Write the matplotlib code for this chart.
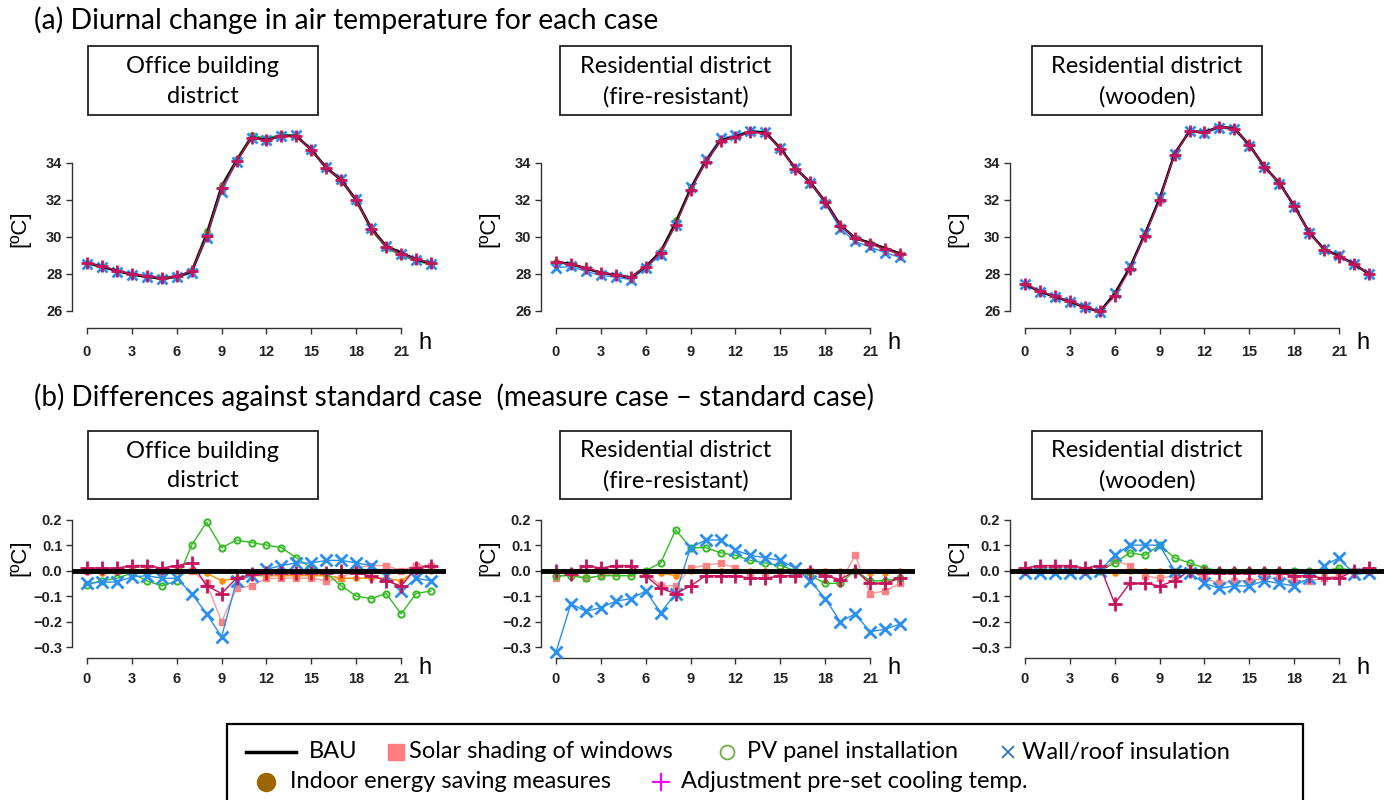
import matplotlib.pyplot as plt
import matplotlib.transforms as mtransforms
from matplotlib.lines import Line2D
from matplotlib.patches import Rectangle

# hours of the day
hours = list(range(24))

# (a) BAU air temperature [oC]
bau_office = [28.60, 28.39, 28.17, 27.97, 27.85, 27.76, 27.85, 28.12, 30.10, 32.70, 34.10, 35.37,
              35.22, 35.44, 35.44, 34.68, 33.73, 33.06, 31.99, 30.46, 29.50, 29.14, 28.78, 28.57]
bau_fire = [28.65, 28.53, 28.30, 28.06, 27.94, 27.80, 28.39, 29.20, 30.73, 32.58, 34.05, 35.19,
            35.40, 35.67, 35.62, 34.77, 33.69, 32.94, 31.90, 30.64, 29.92, 29.68, 29.38, 29.10]
bau_wood = [27.45, 27.04, 26.77, 26.50, 26.20, 25.96, 26.92, 28.30, 30.10, 32.04, 34.47, 35.70,
            35.64, 35.94, 35.85, 34.95, 33.78, 32.92, 31.66, 30.24, 29.32, 28.96, 28.53, 27.99]

# (b) differences (measure case - standard case) [oC]
shade_office = [0.00, 0.00, 0.00, 0.00, 0.00, 0.00, 0.00, 0.00, -0.05, -0.20, -0.07, -0.06,
                -0.03, -0.03, -0.03, -0.03, -0.04, -0.03, 0.01, 0.02, 0.02, 0.00, 0.02, 0.02]
pv_office = [-0.055, -0.04, -0.03, -0.01, -0.04, -0.06, -0.04, 0.10, 0.19, 0.09, 0.12, 0.11,
             0.10, 0.09, 0.05, 0.01, -0.01, -0.06, -0.10, -0.11, -0.09, -0.17, -0.09, -0.08]
wall_office = [-0.05, -0.045, -0.045, -0.025, -0.02, -0.03, -0.03, -0.09, -0.17, -0.26, -0.04, -0.02,
               0.005, 0.02, 0.03, 0.03, 0.04, 0.04, 0.03, 0.02, -0.02, -0.08, -0.03, -0.04]
indoor_office = [0.00, -0.01, 0.00, 0.00, 0.00, 0.00, 0.00, 0.00, -0.01, -0.04, -0.03, -0.02,
                 -0.02, -0.02, -0.02, -0.02, -0.02, -0.03, -0.03, -0.03, -0.03, -0.04, 0.00, 0.00]
preset_office = [0.01, 0.01, 0.01, 0.02, 0.02, 0.01, 0.02, 0.03, -0.06, -0.09, -0.03, -0.015,
                 -0.01, -0.01, -0.01, -0.01, -0.01, 0.00, -0.01, -0.02, -0.04, -0.06, 0.01, 0.02]

shade_fire = [-0.03, -0.01, -0.03, -0.02, -0.01, -0.01, -0.01, -0.06, -0.06, 0.01, 0.02, 0.03,
              0.01, -0.01, -0.01, -0.01, -0.01, 0.00, -0.01, -0.045, 0.06, -0.09, -0.08, -0.05]
pv_fire = [-0.02, -0.02, -0.03, -0.02, -0.02, -0.02, 0.00, 0.03, 0.16, 0.09, 0.09, 0.07,
           0.06, 0.04, 0.03, 0.02, 0.00, -0.02, -0.05, -0.05, 0.00, -0.04, -0.04, -0.03]
wall_fire = [-0.32, -0.13, -0.16, -0.145, -0.12, -0.11, -0.08, -0.165, -0.09, 0.09, 0.12, 0.12,
             0.08, 0.06, 0.05, 0.04, 0.01, -0.04, -0.11, -0.20, -0.17, -0.24, -0.23, -0.21]
indoor_fire = [0.00, 0.00, 0.00, 0.00, 0.00, 0.00, -0.01, -0.01, -0.02, 0.00, 0.00, 0.00,
               0.00, 0.00, 0.00, 0.00, 0.00, 0.00, 0.00, 0.00, 0.00, -0.01, -0.01, 0.00]
preset_fire = [0.00, -0.015, 0.02, 0.01, 0.02, 0.02, -0.02, -0.07, -0.09, -0.06, -0.02, -0.02,
               -0.02, -0.03, -0.03, -0.02, -0.02, -0.005, -0.02, -0.035, 0.00, -0.05, -0.05, -0.03]

shade_wood = [0.00, 0.00, 0.00, 0.00, 0.00, 0.00, 0.04, 0.02, -0.02, -0.03, -0.02, 0.00,
              -0.03, -0.05, -0.04, -0.04, -0.03, -0.03, -0.04, -0.04, -0.03, -0.02, 0.00, 0.00]
pv_wood = [0.00, 0.00, 0.00, 0.00, 0.00, 0.00, 0.03, 0.07, 0.06, 0.10, 0.05, 0.03,
           0.01, 0.00, 0.00, 0.00, 0.00, 0.00, 0.00, 0.00, 0.00, 0.01, 0.00, 0.00]
wall_wood = [-0.01, -0.01, -0.01, -0.01, -0.01, 0.00, 0.06, 0.10, 0.10, 0.10, 0.00, -0.01,
             -0.05, -0.07, -0.06, -0.06, -0.04, -0.05, -0.06, -0.03, 0.02, 0.05, -0.015, -0.01]
indoor_wood = [0.00, 0.00, 0.00, 0.00, 0.00, 0.00, -0.01, 0.00, 0.00, 0.00, 0.00, 0.00,
               0.00, 0.00, 0.00, 0.00, 0.00, 0.00, 0.00, 0.00, 0.00, 0.00, 0.00, 0.00]
preset_wood = [0.01, 0.02, 0.02, 0.02, 0.01, 0.02, -0.13, -0.05, -0.05, -0.06, -0.04, 0.00,
               -0.01, -0.01, -0.01, -0.01, -0.01, -0.01, -0.02, -0.02, -0.03, -0.03, 0.00, 0.01]

districts = ["Office building\ndistrict", "Residential district\n(fire-resistant)",
             "Residential district\n(wooden)"]
bau_all = [bau_office, bau_fire, bau_wood]
diff_all = [
    {"shade": shade_office, "pv": pv_office, "indoor": indoor_office, "wall": wall_office, "preset": preset_office},
    {"shade": shade_fire, "pv": pv_fire, "indoor": indoor_fire, "wall": wall_fire, "preset": preset_fire},
    {"shade": shade_wood, "pv": pv_wood, "indoor": indoor_wood, "wall": wall_wood, "preset": preset_wood},
]

x_ticks = [0, 3, 6, 9, 12, 15, 18, 21]
temp_ticks = [26, 28, 30, 32, 34]
diff_ticks = [-0.3, -0.2, -0.1, 0.0, 0.1, 0.2]

styles = {
    "shade": dict(color="#F59A9A", marker="s", mfc="#F78383", mec="#F78383", ms=4.5, lw=1.0),
    "pv": dict(color="#33BB22", marker="o", mfc="none", mec="#33BB22", mew=1.4, ms=4.5, lw=1.0),
    "indoor": dict(color="#FF8C00", marker="o", mfc="#FF8C00", mec="#FF8C00", ms=3.8, lw=1.0),
    "wall": dict(color="#2A8FF0", marker="x", mew=2.0, ms=9, lw=1.0),
    "preset": dict(color="#C4145E", marker="+", mew=2.0, ms=10, lw=1.0),
}

W, H = 1397, 800
fig = plt.figure(figsize=(W / 100, H / 100), dpi=100)
plt.rcParams["font.family"] = ["Liberation Sans", "DejaVu Sans"]
TITLE_FONT = ["Lato", "DejaVu Sans"]


def fx(px):
    return px / W


def fy(py):
    return 1 - py / H


def style_axes(ax, ybounds, yticks, ylabels):
    for s in ["top", "right"]:
        ax.spines[s].set_visible(False)
    ax.spines["left"].set_bounds(*ybounds)
    ax.spines["bottom"].set_bounds(0, 21)
    for s in ["left", "bottom"]:
        ax.spines[s].set_color("#333333")
        ax.spines[s].set_linewidth(1.0)
    ax.set_xticks(x_ticks)
    ax.set_yticks(yticks)
    ax.set_yticklabels(ylabels)
    ax.tick_params(axis="both", direction="out", length=4, width=1, color="#333333",
                   labelsize=10.5, labelcolor="#222222")
    ax.tick_params(axis="y", pad=3)
    for lab in ax.get_xticklabels() + ax.get_yticklabels():
        lab.set_fontweight("bold")


lefts = [72, 541, 1010]
axw = 374

for i in range(3):
    # ---- (a) temperature
    top_px, bot_px = 120, 328
    ax = fig.add_axes([fx(lefts[i]), fy(bot_px), axw / W, (bot_px - top_px) / H])
    ax.set_xlim(-1, 24)
    ax.set_ylim(25.08, 36.3)
    for key in ["shade", "pv", "indoor", "wall", "preset"]:
        vals = [b + d for b, d in zip(bau_all[i], diff_all[i][key])]
        st = dict(styles[key])
        st["ms"] = st["ms"] * 0.8
        ax.plot(hours, vals, zorder=3 if key != "preset" else 5, **st)
    ax.plot(hours, bau_all[i], color="black", lw=1.8, zorder=4)
    style_axes(ax, (26, 34), temp_ticks, [str(t) for t in temp_ticks])
    ax.tick_params(axis="x", pad=8)
    ax.text(-0.139, 0.479, "[ºC]", transform=ax.transAxes, rotation=90,
            ha="center", va="center", fontsize=16)
    tr = mtransforms.blended_transform_factory(ax.transData, ax.transAxes)
    ax.text(22.6, -0.072, "h", transform=tr, ha="center", va="center", fontsize=17)

    # ---- (b) differences
    top_px, bot_px = 512, 658
    ax = fig.add_axes([fx(lefts[i]), fy(bot_px), axw / W, (bot_px - top_px) / H])
    ax.set_xlim(-1, 24)
    ax.set_ylim(-0.343, 0.23)
    for key in ["shade", "indoor", "pv", "wall", "preset"]:
        ax.plot(hours, diff_all[i][key], zorder=4 if key == "preset" else 3, **styles[key])
    ax.axhline(0, color="black", lw=3.5, zorder=6)
    style_axes(ax, (-0.3, 0.2), diff_ticks,
               [f"{t:.1f}".replace("-", "\u2212") for t in diff_ticks])
    ax.tick_params(axis="x", pad=6)
    ax.text(-0.139, 0.688, "[ºC]", transform=ax.transAxes, rotation=90,
            ha="center", va="center", fontsize=16)
    tr = mtransforms.blended_transform_factory(ax.transData, ax.transAxes)
    ax.text(22.6, -0.07, "h", transform=tr, ha="center", va="center", fontsize=17)

# section titles
fig.text(fx(34), fy(20), "(a) Diurnal change in air temperature for each case",
         fontsize=20.3, family=TITLE_FONT, va="center", ha="left")
fig.text(fx(34), fy(397), "(b) Differences against standard case  (measure case \u2013 standard case)",
         fontsize=20, family=TITLE_FONT, va="center", ha="left")

# district boxes
box_x = [(88, 318), (560, 791), (1032, 1262)]
for (y0, y1) in [(46, 115), (431, 499)]:
    for i, (x0, x1) in enumerate(box_x):
        fig.patches.append(Rectangle((fx(x0), fy(y1)), (x1 - x0) / W, (y1 - y0) / H,
                                     transform=fig.transFigure, fill=False,
                                     edgecolor="#222222", lw=1.3))
        fig.text(fx((x0 + x1) / 2), fy((y0 + y1) / 2 + 1), districts[i], fontsize=17,
                 family=TITLE_FONT, ha="center", va="center", linespacing=1.5)

# legend box
fig.patches.append(Rectangle((fx(227), fy(810)), (1303 - 227) / W, (810 - 724) / H,
                             transform=fig.transFigure, fill=False, edgecolor="black", lw=1.6))
r1, r2 = 752, 782
fig.add_artist(Line2D([fx(246), fx(296)], [fy(r1), fy(r1)], color="black", lw=2.5,
                      transform=fig.transFigure))
legend_marks = [
    (396, r1, dict(marker="s", ms=11, mfc="#FF7C80", mec="#FF7C80")),
    (727, r1, dict(marker="o", ms=10, mfc="none", mec="#70AD47", mew=1.3)),
    (1008, r1, dict(marker="x", ms=8, mec="#2E75B6", mew=1.3)),
    (266, r2, dict(marker="o", ms=13, mfc="#9C6500", mec="#9C6500")),
    (661, r2, dict(marker="+", ms=13, mec="#FF00FF", mew=1.5)),
]
for px, py, st in legend_marks:
    fig.add_artist(Line2D([fx(px)], [fy(py)], ls="none", transform=fig.transFigure, **st))
legend_texts = [
    (309, r1, "BAU"), (409, r1, "Solar shading of windows"), (747, r1, "PV panel installation"),
    (1022, r1, "Wall/roof insulation"), (290, r2, "Indoor energy saving measures"),
    (681, r2, "Adjustment pre-set cooling temp."),
]
for px, py, t in legend_texts:
    fig.text(fx(px), fy(py), t, fontsize=17, family=TITLE_FONT, ha="left", va="center")

fig.savefig("out.png", dpi=100)
